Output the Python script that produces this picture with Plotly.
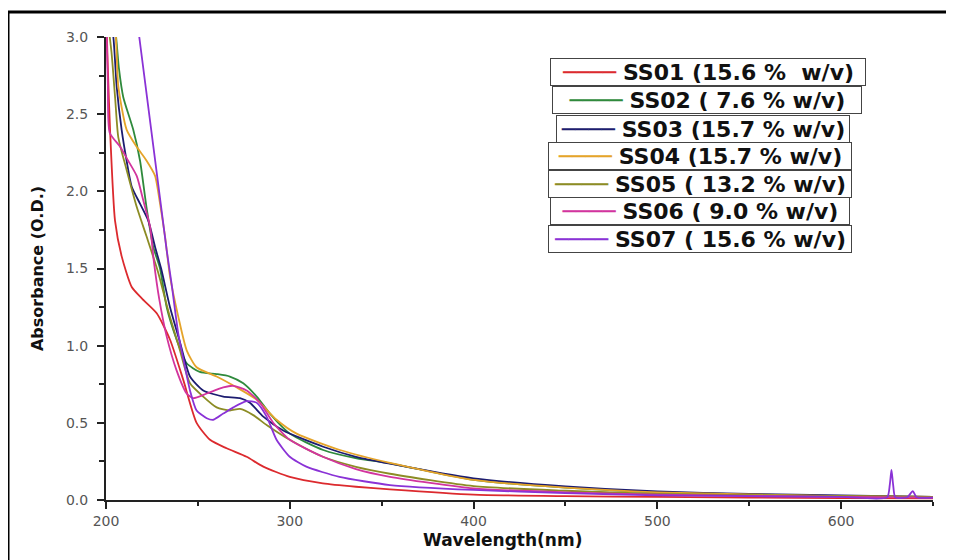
import plotly.graph_objects as go

# UV-Vis absorbance spectra
names = [
    "SS01 (15.6 %&nbsp; w/v)",
    "SS02 ( 7.6 % w/v)",
    "SS03 (15.7 % w/v)",
    "SS04 (15.7 % w/v)",
    "SS05 ( 13.2 % w/v)",
    "SS06 ( 9.0 % w/v)",
    "SS07 ( 15.6 % w/v)",
]
colors = ["#dc2a2e", "#2f8a3c", "#1c1c70", "#e5a42a", "#8c8c24", "#d2349e", "#8a32d6"]

ss01_x = [200, 201, 202.2, 204.9, 208.5, 214, 220, 227.6, 234.8, 242, 249.3, 256.6, 265.6,
          276.5, 285.6, 300, 318, 336, 354.5, 400, 450, 500, 600, 650]
ss01_y = [3.2, 2.8, 2.4, 1.81, 1.58, 1.38, 1.30, 1.21, 1.04, 0.78, 0.50, 0.39, 0.335,
          0.28, 0.216, 0.15, 0.108, 0.086, 0.069, 0.035, 0.025, 0.02, 0.012, 0.01]

ss02_x = [200, 205, 207, 209.4, 214.8, 218.5, 222, 225.7, 229.4, 233, 238.4, 243.9, 251,
          260.2, 267.4, 274.7, 282, 289.2, 300, 318.2, 336.4, 354.5, 400, 450, 500, 600, 650]
ss02_y = [3.3, 3.05, 2.8, 2.61, 2.40, 2.20, 1.90, 1.64, 1.50, 1.25, 1.04, 0.886, 0.83,
          0.816, 0.80, 0.756, 0.67, 0.56, 0.43, 0.324, 0.27, 0.238, 0.13, 0.08, 0.05, 0.025, 0.02]

ss03_x = [200, 204, 205.8, 208.5, 211.2, 214, 218.5, 223, 226.7, 230, 234.8, 240.3, 245.7,
          252.9, 263.8, 272.9, 278.3, 285.6, 296.4, 318.2, 336, 354.5, 400, 450, 500, 550, 600, 650]
ss03_y = [3.3, 3.0, 2.68, 2.40, 2.20, 2.03, 1.92, 1.81, 1.64, 1.50, 1.25, 1.02, 0.80,
          0.71, 0.67, 0.66, 0.63, 0.54, 0.45, 0.345, 0.28, 0.235, 0.14, 0.088, 0.055, 0.04, 0.03, 0.02]

ss04_x = [200, 205, 206.7, 211.2, 216.6, 222, 226.7, 229.4, 232.1, 234.8, 239.3, 243.9, 249.3,
          260.2, 271, 282, 292.8, 303.7, 327.3, 354.5, 400, 450, 500, 600, 650]
ss04_y = [3.3, 3.05, 2.68, 2.40, 2.29, 2.20, 2.10, 1.92, 1.71, 1.45, 1.19, 0.97, 0.86,
          0.80, 0.73, 0.65, 0.52, 0.43, 0.324, 0.24, 0.13, 0.08, 0.05, 0.025, 0.02]

ss05_x = [200, 203, 205, 206.7, 211.2, 216.7, 222, 228.5, 234, 240, 245.7, 252.9, 260.2,
          267.4, 272.9, 280.1, 287.4, 300, 318, 336, 354.5, 400, 450, 500, 600, 650]
ss05_y = [3.2, 2.9, 2.6, 2.35, 2.14, 1.90, 1.71, 1.47, 1.22, 0.98, 0.756, 0.67, 0.60,
          0.58, 0.59, 0.55, 0.486, 0.39, 0.28, 0.215, 0.17, 0.09, 0.06, 0.04, 0.025, 0.02]

ss06_x = [200, 201, 202, 207.6, 212, 216.7, 220.3, 224, 226, 229, 233, 238.4, 243.9, 247.5,
          254.8, 263.8, 269.2, 276.5, 283.8, 291, 300, 318, 336, 354.5, 400, 450, 500, 600, 650]
ss06_y = [3.2, 2.7, 2.38, 2.29, 2.20, 2.10, 1.94, 1.77, 1.55, 1.30, 1.06, 0.84, 0.69, 0.66,
          0.69, 0.73, 0.74, 0.71, 0.63, 0.50, 0.39, 0.28, 0.20, 0.15, 0.075, 0.05, 0.035, 0.02, 0.015]

ss07_x = [218.1, 233, 235.7, 239.3, 243, 245.7, 249.3, 254.8, 258.4, 263.8, 269.3, 276.5, 282,
          287.4, 292.8, 300, 309, 327, 354.5, 400, 450, 500, 600, 625, 626.5, 627.4, 628.3,
          629.5, 636, 639, 641, 650]
ss07_y = [3.0, 1.62, 1.40, 1.08, 0.86, 0.71, 0.58, 0.53, 0.52, 0.56, 0.60, 0.64, 0.63,
          0.54, 0.39, 0.28, 0.216, 0.15, 0.097, 0.065, 0.045, 0.03, 0.02, 0.017, 0.1, 0.195, 0.1,
          0.017, 0.018, 0.058, 0.018, 0.015]

series_x = [ss01_x, ss02_x, ss03_x, ss04_x, ss05_x, ss06_x, ss07_x]
series_y = [ss01_y, ss02_y, ss03_y, ss04_y, ss05_y, ss06_y, ss07_y]

# plot area in pixels (page is offset by the 8px body margin)
PX0, PY0, PW, PH = 106, 37, 827, 463

# boxed key entries: (left, top, right) in screen pixels
key_boxes = [(550, 58, 866), (552, 86, 862), (556, 115, 850), (548, 142, 852),
             (548, 170, 852), (550, 197, 850), (548, 225, 852)]

fig = go.Figure()
for i in range(7):
    fig.add_trace(go.Scatter(
        x=series_x[i], y=series_y[i],
        mode="lines",
        name=names[i],
        line=dict(color=colors[i], width=1.8, shape="spline", smoothing=0.6),
        showlegend=False,
    ))

for i, (left, top, right) in enumerate(key_boxes):
    fig.add_annotation(
        xref="paper", yref="paper",
        x=(left - PX0) / PW, y=1 - (top - PY0) / PH,
        xanchor="left", yanchor="top",
        width=right - left - 4, height=24, borderpad=1,
        align="center", valign="middle",
        text=f'<span style="color:{colors[i]}">────</span>&nbsp;<b>{names[i]}</b>',
        font=dict(family="DejaVu Sans", size=22, color="#111"),
        bgcolor="white", bordercolor="#444", borderwidth=1,
        showarrow=False,
    )

# x-axis title sits a little left of centre in the original
fig.add_annotation(
    xref="paper", yref="paper",
    x=(502 - PX0) / PW, y=-(540 - PY0 - PH) / PH,
    xanchor="center", yanchor="middle",
    text="<b>Wavelength(nm)</b>",
    font=dict(family="DejaVu Sans", size=17, color="#111"),
    showarrow=False,
)

fig.update_layout(
    width=954, height=560,
    margin=dict(l=PX0 - 8, r=954 - PX0 - PW + 8, t=PY0 - 8, b=560 - PY0 - PH + 8),
    plot_bgcolor="white",
    paper_bgcolor="white",
    font=dict(family="DejaVu Sans", color="#555"),
    showlegend=False,
)

fig.update_xaxes(
    range=[200, 650], dtick=100, tick0=200,
    showline=True, linecolor="#222", linewidth=2, showgrid=False, zeroline=False,
    ticks="outside", ticklen=7, tickwidth=2, tickcolor="#222",
    minor=dict(ticks="outside", ticklen=4, tickwidth=2, dtick=50, tickcolor="#222"),
    tickfont=dict(size=14, color="#555"),
)
fig.update_yaxes(
    range=[0, 3], dtick=0.5, tickformat=".1f",
    showline=True, linecolor="#222", linewidth=2, showgrid=False, zeroline=False,
    ticks="outside", ticklen=7, tickwidth=2, tickcolor="#222", ticklabelstandoff=6,
    minor=dict(ticks="outside", ticklen=5, tickwidth=2, dtick=0.25, tickcolor="#222"),
    tickfont=dict(size=14, color="#555"),
    title=dict(text="<b>Absorbance (O.D.)</b>", font=dict(size=16, color="#111"), standoff=18),
)

# outer black frame of the picture
fig.add_shape(type="rect", xref="paper", yref="paper",
              x0=(8 - PX0) / PW, x1=1.2, y0=-0.3, y1=1 + (PY0 - 12) / PH,
              line=dict(color="black", width=3), layer="below")

fig.write_html("out.html")
